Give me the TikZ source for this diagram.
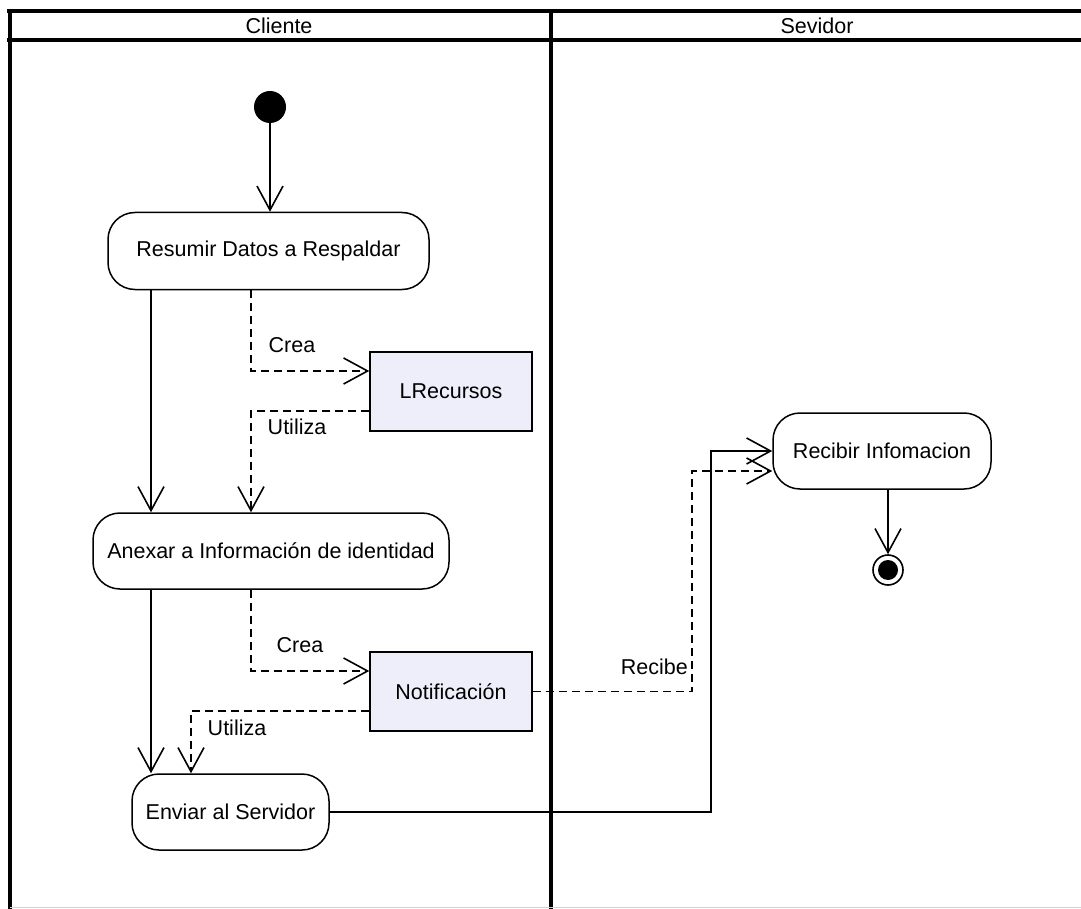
\documentclass[tikz,border=0pt]{standalone}
\usepackage{fontspec}
\setmainfont{Liberation Sans}
\usetikzlibrary{arrows.meta}
\definecolor{objfill}{RGB}{238,238,250}
\begin{document}
\begin{tikzpicture}[x=1pt,y=-1pt,
  font=\fontsize{21.5}{25}\selectfont,
  lane/.style={line width=3.4pt,black},
  action/.style={draw,line width=1.5pt,rounded corners=27pt,fill=white,align=center,inner sep=0pt},
  objbox/.style={draw,line width=1.5pt,fill=objfill,minimum width=162pt,minimum height=79pt,inner sep=0pt},
  flow/.style={line width=1.6pt,-{Straight Barb[length=24pt,width=26pt,line width=1.6pt]}},
  dep/.style={flow,dash pattern=on 8pt off 5pt},
  lbl/.style={inner sep=0pt}]
\useasboundingbox (0,0) rectangle (1081,909);

% swimlane frame
\draw[lane] (7,11) -- (1081,11);
\draw[lane] (7,40) -- (1081,40);
\draw[lane] (10,11) -- (10,909);
\draw[lane] (551,11) -- (551,909);
\draw[line width=1.5pt,black!18] (10,907.5) -- (1081,907.5);
\node[lbl] (laneA) at (279,26) {Cliente};
\node[lbl] (laneB) at (817,26) {Sevidor};

% actions and objects
\node[circle,fill=black,minimum size=32pt,inner sep=0pt] (start) at (270,107) {};
\node[action,minimum width=321pt,minimum height=77pt] (resumir) at (268.5,251) {Resumir Datos a Respaldar};
\node[objbox] (lrec) at (451,391.5) {LRecursos};
\node[action,minimum width=356pt,minimum height=76pt] (anexar) at (271,551) {Anexar a Información de identidad};
\node[objbox] (notif) at (451,691.5) {Notificación};
\node[action,minimum width=197pt,minimum height=76pt] (enviar) at (230.5,812) {Enviar al Servidor};
\node[action,minimum width=218pt,minimum height=76pt] (recibir) at (882,451) {Recibir Infomacion};
\node[circle,draw,line width=1.6pt,minimum size=30pt,inner sep=0pt] (fin) at (888,570) {};
\node[circle,fill=black,minimum size=20pt,inner sep=0pt] (finin) at (fin) {};

% column guides for the vertical runs
\coordinate (colA) at (151,0);
\coordinate (colB) at (251,0);
\coordinate (colC) at (191,0);
\coordinate (colD) at (711,0);
\coordinate (colE) at (692,0);

% control flow
\draw[flow] (start) -- (start |- resumir.north);
\draw[flow] (resumir.south -| colA) -- (anexar.north -| colA);
\draw[flow] (anexar.south -| colA) -- (enviar.north -| colA);
\draw[flow] (enviar.east) -| (colD |- recibir.west) -- (recibir.west);
\draw[flow] (recibir.south -| fin) -- (fin.north);

% object flow
\draw[dep] (resumir.south -| colB) |- ([yshift=20.5pt]lrec.west);
\draw[dep] ([yshift=-19.5pt]lrec.west) -| (anexar.north -| colB);
\draw[dep] (anexar.south -| colB) |- ([yshift=20.5pt]notif.west);
\draw[dep] ([yshift=-19.5pt]notif.west) -| (enviar.north -| colC);
\draw[dep] (notif.east) -| ([yshift=-20pt]recibir.west -| colE) -- ([yshift=-20pt]recibir.west);

% labels
\node[lbl] (l1) at (292,345) {Crea};
\node[lbl] (l2) at (297,427) {Utiliza};
\node[lbl] (l3) at (300,645) {Crea};
\node[lbl] (l4) at (237,728) {Utiliza};
\node[lbl,anchor=east] (l5) at (688,667) {Recibe};
\end{tikzpicture}
\end{document}
